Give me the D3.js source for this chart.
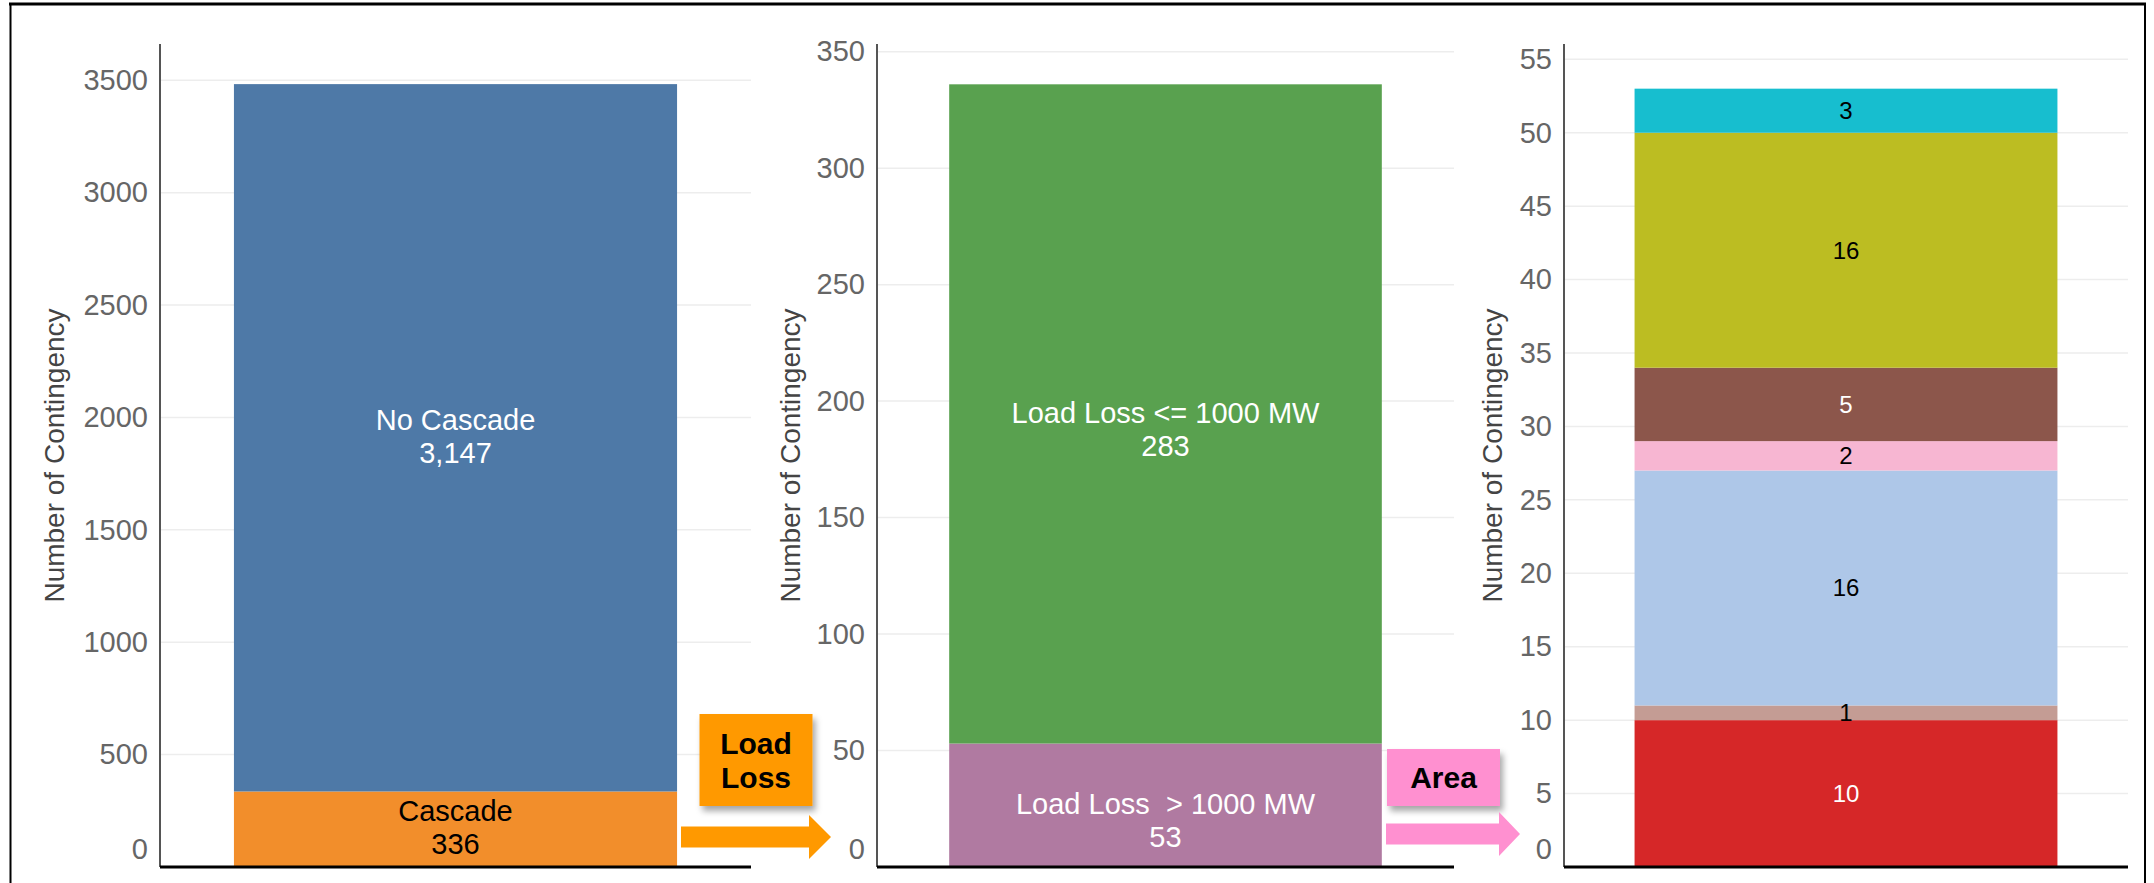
<!DOCTYPE html>
<html>
<head>
<meta charset="utf-8">
<script src="https://cdn.jsdelivr.net/npm/d3@7"></script>
<style>
  body { margin: 0; background: #fff; }
  svg { display: block; font-family: Arial, "Liberation Sans", sans-serif; }
</style>
</head>
<body>
<div id="container"></div>
<script>
///size
const w = 2154, h = 883, base = 867;

///data
const cascadeCats = ["Cascade", "No Cascade"];
const cascadeVals = [336, 3147];
const lossCats = ["Load Loss  > 1000 MW", "Load Loss <= 1000 MW"];
const lossVals = [53, 283];
const areaCats = ["A1", "A2", "A3", "A4", "A5", "A6", "A7"];
const areaVals = [10, 1, 16, 2, 5, 16, 3];

const ticks1 = [0, 500, 1000, 1500, 2000, 2500, 3000, 3500];
const ticks2 = [0, 50, 100, 150, 200, 250, 300, 350];
const ticks3 = [0, 5, 10, 15, 20, 25, 30, 35, 40, 45, 50, 55];

const cascadeColors = ["#f28e2b", "#4e79a7"];
const lossColors = ["#b07aa1", "#59a14f"];
const areaColors = ["#d62728", "#c49c94", "#aec7e8", "#f7b6d2", "#8c564b", "#bcbd22", "#17becf"];
const areaText = ["#fff", "#000", "#000", "#000", "#fff", "#000", "#000"];

const panels = [
  {cats: cascadeCats, vals: cascadeVals, colors: cascadeColors, txt: ["#000", "#fff"],
   ticks: ticks1, x0: 160, x1: 751, yTop: 80.3, titleX: 54, font: 29, named: true, shift: -2},
  {cats: lossCats, vals: lossVals, colors: lossColors, txt: ["#fff", "#fff"],
   ticks: ticks2, x0: 877, x1: 1454, yTop: 51.7, titleX: 790, font: 29, named: true, shift: 15},
  {cats: areaCats, vals: areaVals, colors: areaColors, txt: areaText,
   ticks: ticks3, x0: 1564, x1: 2128, yTop: 59.3, titleX: 1492, font: 24, named: false, shift: 0}
];

///svg
const svg = d3.select("#container").append("svg")
  .attr("width", w).attr("height", h);

const defs = svg.append("defs");
defs.append("filter").attr("id", "shadow")
  .attr("x", "-20%").attr("y", "-20%").attr("width", "150%").attr("height", "150%")
  .append("feDropShadow")
  .attr("dx", 3).attr("dy", 5).attr("stdDeviation", 3)
  .attr("flood-color", "#000").attr("flood-opacity", 0.35);

///frame
svg.append("line").attr("x1", 9).attr("x2", 2146).attr("y1", 4).attr("y2", 4)
  .attr("stroke", "#000").attr("stroke-width", 3);
svg.append("line").attr("x1", 10.5).attr("x2", 10.5).attr("y1", 3).attr("y2", h)
  .attr("stroke", "#000").attr("stroke-width", 2);
svg.append("line").attr("x1", 2145).attr("x2", 2145).attr("y1", 3).attr("y2", h)
  .attr("stroke", "#000").attr("stroke-width", 2);

panels.forEach(p => {
  const g = svg.append("g");
  const y = d3.scaleLinear().domain([0, p.ticks[p.ticks.length - 1]]).range([base, p.yTop]);
  const x = d3.scaleBand().domain(["all"]).range([p.x0, p.x1]).padding(0.143);

  //grid
  g.selectAll(".grid").data(p.ticks.filter(t => t > 0)).enter().append("line")
    .attr("x1", p.x0).attr("x2", p.x1)
    .attr("y1", d => y(d)).attr("y2", d => y(d))
    .attr("stroke", "#ededed").attr("stroke-width", 1.5);

  //stack
  const ends = d3.cumsum(p.vals);
  const segs = p.vals.map((v, i) => ({name: p.cats[i], v: v, y0: ends[i] - v, y1: ends[i], i: i}));

  g.selectAll(".seg").data(segs).enter().append("rect")
    .attr("x", x("all")).attr("width", x.bandwidth())
    .attr("y", d => y(d.y1)).attr("height", d => y(d.y0) - y(d.y1))
    .attr("fill", d => p.colors[d.i]);

  const labels = g.selectAll(".lab").data(segs).enter().append("text")
    .attr("text-anchor", "middle")
    .attr("fill", d => p.txt[d.i])
    .style("font-size", p.font + "px")
    .style("white-space", "pre");
  if (p.named) {
    labels.each(function(d) {
      const t = d3.select(this);
      const cy = (y(d.y0) + y(d.y1)) / 2 + p.shift;
      t.append("tspan").attr("x", x("all") + x.bandwidth() / 2).attr("y", cy - 6).text(d.name);
      t.append("tspan").attr("x", x("all") + x.bandwidth() / 2).attr("y", cy + 27).text(d3.format(",")(d.v));
    });
  } else {
    labels.attr("x", x("all") + x.bandwidth() / 2)
      .attr("y", d => (y(d.y0) + y(d.y1)) / 2)
      .attr("dy", "0.35em")
      .text(d => d.v);
  }

  //axis
  const yAxis = d3.axisLeft(y).tickValues(p.ticks).tickFormat(d3.format("d"))
    .tickSize(0).tickPadding(12);
  const ag = g.append("g").attr("transform", "translate(" + p.x0 + ",0)").call(yAxis);
  ag.select(".domain").remove();
  ag.selectAll("text").style("font-size", "29px").attr("fill", "#666")
    .style("font-family", "Arial, 'Liberation Sans', sans-serif");
  ag.selectAll(".tick").filter(d => d === 0).select("text").attr("y", -18);

  g.append("line").attr("x1", p.x0).attr("x2", p.x0).attr("y1", 44).attr("y2", base)
    .attr("stroke", "#555").attr("stroke-width", 2);
  g.append("line").attr("x1", p.x0).attr("x2", p.x1).attr("y1", base).attr("y2", base)
    .attr("stroke", "#000").attr("stroke-width", 3);

  g.append("text")
    .attr("transform", "translate(" + p.titleX + "," + ((44 + base) / 2) + ") rotate(-90)")
    .attr("text-anchor", "middle").attr("dy", "0.35em")
    .attr("fill", "#444").style("font-size", "28px")
    .text("Number of Contingency");
});

///annotations
function callout(bx, by, bw, bh, color, lines, ax0, ax1, ay, tip) {
  svg.append("rect").attr("x", bx).attr("y", by).attr("width", bw).attr("height", bh)
    .attr("fill", color).attr("filter", "url(#shadow)");
  const t = svg.append("text").attr("text-anchor", "middle")
    .style("font-size", "30px").style("font-weight", "bold").attr("fill", "#000");
  const cy = by + bh / 2 - (lines.length - 1) * 17;
  lines.forEach((s, i) => {
    t.append("tspan").attr("x", bx + bw / 2).attr("y", cy + i * 34).attr("dy", "0.35em").text(s);
  });
  const sh = 10.5, hh = 22;
  svg.append("path")
    .attr("d", `M${ax0},${ay - sh}L${ax1},${ay - sh}L${ax1},${ay - hh}L${tip},${ay}` +
      `L${ax1},${ay + hh}L${ax1},${ay + sh}L${ax0},${ay + sh}Z`)
    .attr("fill", color);
}
callout(699.5, 714, 113, 92, "#ff9900", ["Load", "Loss"], 681, 809, 837, 831);
callout(1387, 749, 113, 57, "#ff90d0", ["Area"], 1386, 1499, 834, 1520);
</script>
</body>
</html>
